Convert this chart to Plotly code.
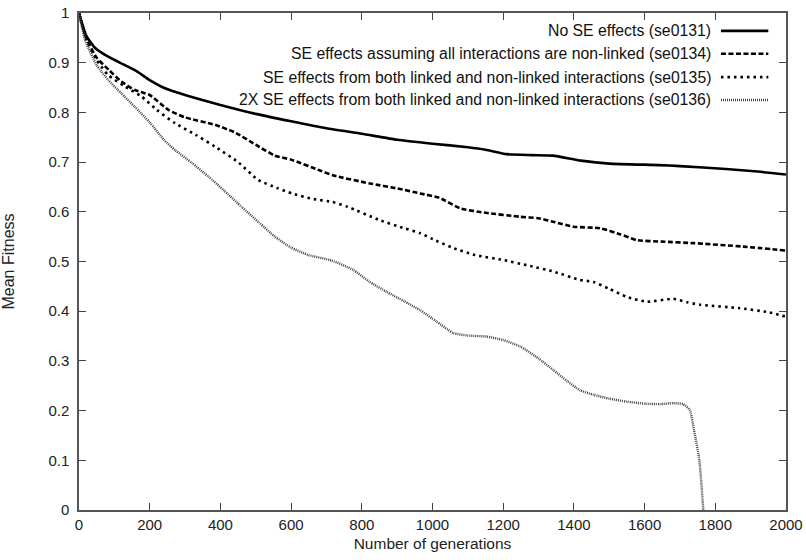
import plotly.graph_objects as go

# generations / mean fitness
gen_se0131 = [0, 20, 45, 80, 130, 165, 200, 245, 300, 400, 500, 600, 700, 800, 900,
              1000, 1100, 1150, 1210, 1280, 1340, 1420, 1500, 1640, 1700, 1830, 1920, 2000]
fit_se0131 = [1.0, 0.955, 0.93, 0.913, 0.895, 0.882, 0.865, 0.848, 0.835, 0.815, 0.797,
              0.782, 0.768, 0.757, 0.745, 0.737, 0.730, 0.725, 0.716, 0.714, 0.713, 0.703,
              0.697, 0.694, 0.692, 0.686, 0.681, 0.675]

gen_se0134 = [0, 20, 50, 85, 120, 158, 180, 200, 253, 300, 385, 440, 500, 554, 600, 682,
              720, 823, 900, 965, 1020, 1078, 1150, 1248, 1300, 1341, 1400, 1474, 1530,
              1578, 1650, 1737, 1879, 2000]
fit_se0134 = [1.0, 0.95, 0.91, 0.885, 0.862, 0.845, 0.840, 0.835, 0.805, 0.79, 0.775, 0.760,
              0.735, 0.713, 0.705, 0.683, 0.673, 0.657, 0.647, 0.637, 0.628, 0.607, 0.598,
              0.590, 0.587, 0.580, 0.570, 0.567, 0.555, 0.543, 0.540, 0.537, 0.530, 0.522]

gen_se0135 = [0, 20, 50, 83, 130, 177, 220, 272, 330, 385, 450, 507, 560, 602, 660, 715,
              760, 851, 920, 965, 1010, 1059, 1120, 1200, 1270, 1341, 1417, 1455, 1500,
              1549, 1606, 1681, 1720, 1757, 1870, 1950, 2000]
fit_se0135 = [1.0, 0.948, 0.905, 0.875, 0.852, 0.832, 0.805, 0.778, 0.755, 0.731, 0.70,
              0.664, 0.648, 0.637, 0.626, 0.62, 0.61, 0.583, 0.567, 0.557, 0.542, 0.527,
              0.513, 0.503, 0.492, 0.48, 0.463, 0.459, 0.445, 0.429, 0.419, 0.425, 0.418,
              0.413, 0.406, 0.398, 0.389]

gen_se0136 = [0, 17, 50, 83, 120, 158, 200, 240, 272, 320, 366, 410, 460, 510, 554, 600,
              649, 715, 776, 820, 870, 920, 965, 1010, 1059, 1100, 1153, 1200, 1248, 1300,
              1341, 1380, 1417, 1455, 1500, 1549, 1600, 1643, 1680, 1709, 1728, 1740, 1755,
              1766]
fit_se0136 = [1.0, 0.946, 0.895, 0.865, 0.838, 0.811, 0.78, 0.745, 0.724, 0.698, 0.671,
              0.643, 0.610, 0.578, 0.550, 0.528, 0.513, 0.502, 0.483, 0.46, 0.439, 0.42,
              0.402, 0.38, 0.356, 0.351, 0.349, 0.342, 0.329, 0.305, 0.282, 0.26, 0.241,
              0.232, 0.224, 0.218, 0.214, 0.213, 0.215, 0.213, 0.201, 0.16, 0.1, 0.0]

labels = [
    "No SE effects (se0131)",
    "SE effects assuming all interactions are non-linked (se0134)",
    "SE effects from both linked and non-linked interactions (se0135)",
    "2X SE effects from both linked and non-linked interactions (se0136)",
]

FONT = "Liberation Sans, Arial, Helvetica, sans-serif"
styles = [
    {"color": "#000000", "width": 2.6, "dash": "solid"},
    {"color": "#000000", "width": 2.6, "dash": "5px,2.5px"},
    {"color": "#000000", "width": 2.6, "dash": "2.5px,4px"},
    {"color": "#444444", "width": 2.4, "dash": "1px,1px"},
]
series = [
    (gen_se0131, fit_se0131),
    (gen_se0134, fit_se0134),
    (gen_se0135, fit_se0135),
    (gen_se0136, fit_se0136),
]

fig = go.Figure()
for (gx, fy), name, style in zip(series, labels, styles):
    fig.add_trace(
        go.Scatter(
            x=gx,
            y=fy,
            mode="lines",
            name=name,
            line={**style, "shape": "spline", "smoothing": 0.5},
            showlegend=False,
        )
    )

# gnuplot-style key: text right-aligned, sample on its right
key_text_x = 0.8963
key_line_x0, key_line_x1 = 0.908, 0.975
key_rows = [0.964, 0.918, 0.871, 0.825]
for name, style, ky in zip(labels, styles, key_rows):
    fig.add_annotation(
        x=key_text_x, y=ky, xref="paper", yref="paper",
        text=name, showarrow=False, xanchor="right", yanchor="middle",
        font={"family": FONT, "size": 15.8, "color": "#111111"},
    )
    fig.add_shape(
        type="line", xref="paper", yref="paper",
        x0=key_line_x0, x1=key_line_x1, y0=ky, y1=ky,
        line=style,
    )

axis_common = dict(
    showline=True,
    linecolor="#555555",
    linewidth=1.5,
    mirror="ticks",
    ticks="inside",
    ticklen=7,
    tickwidth=1.3,
    tickcolor="#444444",
    showgrid=False,
    zeroline=False,
    automargin=False,
    tickfont={"family": FONT, "size": 15, "color": "#222222"},
)

fig.update_layout(
    width=806,
    height=560,
    paper_bgcolor="white",
    plot_bgcolor="white",
    margin={"l": 79, "r": 20, "t": 13, "b": 50},
    font={"family": FONT, "color": "#222222"},
    xaxis={
        **axis_common,
        "range": [0, 2000],
        "tickvals": list(range(0, 2001, 200)),
        "title": {"text": "Number of generations", "font": {"size": 15.5}, "standoff": 6},
    },
    yaxis={
        **axis_common,
        "range": [0, 1],
        "tickvals": [i / 10 for i in range(11)],
        "ticktext": ["0", "0.1", "0.2", "0.3", "0.4", "0.5", "0.6", "0.7", "0.8", "0.9", "1"],
        "ticklabelstandoff": 5,
        "title": {"text": "Mean Fitness", "font": {"size": 16}, "standoff": 32},
    },
)

# drop the default 8px page margin so the figure sits at the window's corner
fig.write_html(
    "out.html",
    config={"displayModeBar": False},
    post_script="document.body.style.margin = '0px';",
)
